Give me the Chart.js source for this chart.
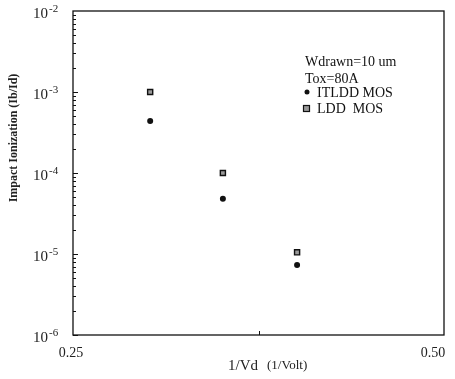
<!DOCTYPE html>
<html>
<head>
<meta charset="utf-8">
<script src="https://cdn.jsdelivr.net/npm/chart.js@4/dist/chart.umd.min.js"></script>
<style>
  html, body { margin: 0; padding: 0; background: #fff; }
  #wrap { width: 455px; height: 379px; }
</style>
</head>
<body>
<div id="wrap"><canvas id="c" width="455" height="379"></canvas></div>
<script>
// data
const invVd      = [0.302, 0.351, 0.401];        // 1/Vd (1/Volt)
const itlddMos   = [4.4e-4, 4.8e-5, 7.3e-6];     // Ib/Id, ITLDD MOS
const lddMos     = [1.0e-3, 1.0e-4, 1.05e-5];    // Ib/Id, LDD MOS
const yDecades   = [-2, -3, -4, -5, -6];         // tick labels 10^n
const xTickVals  = [0.25, 0.50];
const notes      = ['Wdrawn=10 um', 'Tox=80A'];
const seriesNames = ['ITLDD MOS', 'LDD  MOS'];

const SERIF = '"Liberation Serif", "DejaVu Serif", serif';
const INK = '#111';

// axis labels, frame, minor ticks and the in-plot key
const paperPlugin = {
  id: 'paper',
  afterDraw(chart) {
    const { ctx, chartArea: a, scales: { x, y } } = chart;
    ctx.save();

    // frame
    ctx.strokeStyle = INK;
    ctx.lineWidth = 1.3;
    ctx.strokeRect(a.left, a.top, a.right - a.left, a.bottom - a.top);

    // minor + major ticks on the left axis, pointing inside
    ctx.lineWidth = 1;
    for (let d = -6; d < -2; d++) {
      for (let m = 1; m <= 9; m++) {
        const py = Math.round(y.getPixelForValue(m * Math.pow(10, d))) + 0.5;
        const len = m === 1 ? 5 : 3;
        ctx.beginPath();
        ctx.moveTo(a.left, py);
        ctx.lineTo(a.left + len, py);
        ctx.stroke();
      }
    }
    // centre tick on bottom axis
    const mx = Math.round(x.getPixelForValue(0.375)) + 0.5;
    ctx.beginPath();
    ctx.moveTo(mx, a.bottom);
    ctx.lineTo(mx, a.bottom - 4);
    ctx.stroke();

    // y tick labels 10^n
    ctx.fillStyle = '#222';
    ctx.textBaseline = 'middle';
    yDecades.forEach(n => {
      const py = y.getPixelForValue(Math.pow(10, n));
      ctx.font = '15px ' + SERIF;
      ctx.textAlign = 'left';
      ctx.fillText('10', 33, py + 3);
      ctx.font = '11px ' + SERIF;
      ctx.fillText('-' + Math.abs(n), 49, py - 2);
    });

    // x tick labels (the last one sits inside the right edge, as printed)
    ctx.font = '14px ' + SERIF;
    ctx.textAlign = 'center';
    xTickVals.forEach((v, i) => {
      const px = x.getPixelForValue(v) + (i === xTickVals.length - 1 ? -11 : -2);
      ctx.fillText(v.toFixed(2), px, 353);
    });

    // x title
    ctx.font = '15px ' + SERIF;
    ctx.textAlign = 'left';
    ctx.fillText('1/Vd', 228, 366);
    ctx.font = '13px ' + SERIF;
    ctx.fillText('(1/Volt)', 267, 366);

    // y title
    ctx.save();
    ctx.translate(14, 138);
    ctx.rotate(-Math.PI / 2);
    ctx.font = 'bold 12px ' + SERIF;
    ctx.textAlign = 'center';
    ctx.fillText('Impact Ionization (Ib/Id)', 0, 0);
    ctx.restore();

    // key block
    ctx.fillStyle = INK;
    ctx.font = '14px ' + SERIF;
    ctx.textAlign = 'left';
    ctx.fillText(notes[0], 305, 62);
    ctx.fillText(notes[1], 305, 79);
    ctx.beginPath();
    ctx.arc(307, 92, 2.5, 0, Math.PI * 2);
    ctx.fill();
    ctx.fillText(seriesNames[0], 317, 93);
    ctx.fillStyle = '#999';
    ctx.fillRect(304, 106, 5, 5);
    ctx.strokeStyle = INK;
    ctx.lineWidth = 1.2;
    ctx.strokeRect(303.5, 105.5, 6, 6);
    ctx.fillStyle = INK;
    ctx.fillText(seriesNames[1], 317, 109);

    ctx.restore();
  }
};

new Chart(document.getElementById('c'), {
  type: 'scatter',
  data: {
    datasets: [
      {
        label: seriesNames[0],
        data: invVd.map((v, i) => ({ x: v, y: itlddMos[i] })),
        pointStyle: 'circle',
        pointRadius: 3,
        backgroundColor: INK,
        borderColor: INK,
        borderWidth: 0
      },
      {
        label: seriesNames[1],
        data: invVd.map((v, i) => ({ x: v, y: lddMos[i] })),
        pointStyle: 'rect',
        pointRadius: 3.6,
        backgroundColor: '#999',
        borderColor: INK,
        borderWidth: 1.4
      }
    ]
  },
  options: {
    responsive: false,
    animation: false,
    events: [],
    layout: { padding: { left: 73, right: 11, top: 11, bottom: 44 } },
    plugins: { legend: { display: false }, tooltip: { enabled: false } },
    scales: {
      x: { type: 'linear', display: false, min: 0.25, max: 0.50 },
      y: { type: 'logarithmic', display: false, min: 1e-6, max: 1e-2 }
    }
  },
  plugins: [paperPlugin]
});
</script>
</body>
</html>
